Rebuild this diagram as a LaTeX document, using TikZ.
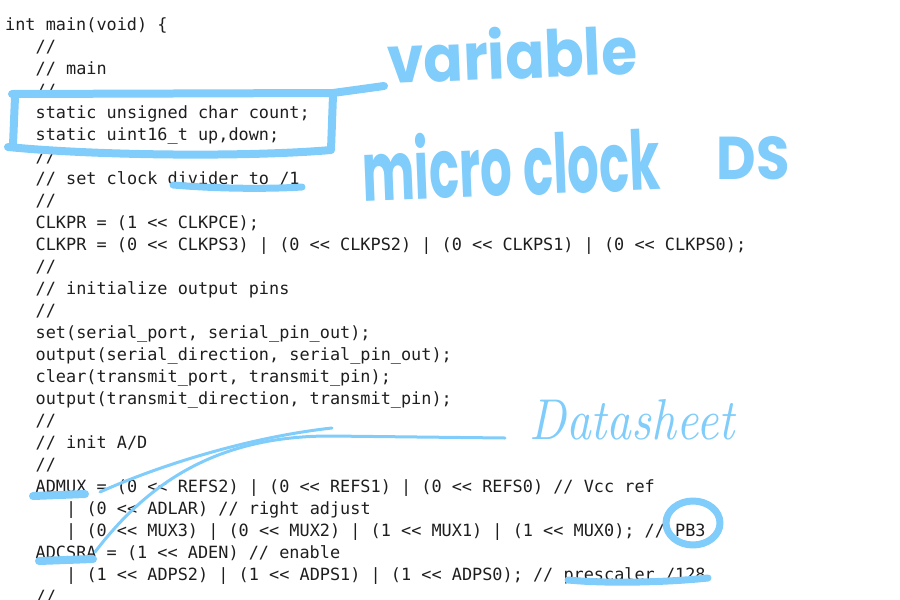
\documentclass[tikz,border=0pt]{standalone}
\usepackage{fontspec}
\usepackage{graphicx}
\setmonofont{DejaVu Sans Mono}
\newfontfamily\handfont{Poppins}
\definecolor{pen}{RGB}{128,204,250}
\definecolor{ink}{RGB}{30,30,30}
\frenchspacing

\begin{document}
\begin{tikzpicture}[x=1pt,y=-1pt,
  code/.style={anchor=base west,inner sep=0,text=ink,
    font=\ttfamily\fontsize{16.86}{22}\selectfont},
  marker/.style={draw=pen,line width=8pt,line cap=round,line join=round},
  stroke/.style={draw=pen,line width=3pt,line cap=round},
  scrawl/.style={inner sep=0,text=pen,font=\handfont\bfseries}]
  \useasboundingbox (0,0) rectangle (900,600);
  % the listing
  \node[code] (l0) at (5,30) {int main(void) \{};
  \node[code] (l1) at (35.5,52) {//};
  \node[code] (l2) at (35.5,74) {// main};
  \node[code] (l3) at (35.5,96) {//};
  \node[code] (l4) at (35.5,118) {static unsigned char count;};
  \node[code] (l5) at (35.5,140) {static uint16\_t up,down;};
  \node[code] (l6) at (35.5,162) {//};
  \node[code] (l7) at (35.5,184) {// set clock divider to /1};
  \node[code] (l8) at (35.5,206) {//};
  \node[code] (l9) at (35.5,228) {CLKPR = (1 << CLKPCE);};
  \node[code] (l10) at (35.5,250) {CLKPR = (0 << CLKPS3) | (0 << CLKPS2) | (0 << CLKPS1) | (0 << CLKPS0);};
  \node[code] (l11) at (35.5,272) {//};
  \node[code] (l12) at (35.5,294) {// initialize output pins};
  \node[code] (l13) at (35.5,316) {//};
  \node[code] (l14) at (35.5,338) {set(serial\_port, serial\_pin\_out);};
  \node[code] (l15) at (35.5,360) {output(serial\_direction, serial\_pin\_out);};
  \node[code] (l16) at (35.5,382) {clear(transmit\_port, transmit\_pin);};
  \node[code] (l17) at (35.5,404) {output(transmit\_direction, transmit\_pin);};
  \node[code] (l18) at (35.5,426) {//};
  \node[code] (l19) at (35.5,448) {// init A/D};
  \node[code] (l20) at (35.5,470) {//};
  \node[code] (l21) at (35.5,492) {ADMUX = (0 << REFS2) | (0 << REFS1) | (0 << REFS0) // Vcc ref};
  \node[code] (l22) at (66,514) {| (0 << ADLAR) // right adjust};
  \node[code] (l23) at (66,536) {| (0 << MUX3) | (0 << MUX2) | (1 << MUX1) | (1 << MUX0); // PB3};
  \node[code] (l24) at (35.5,558) {ADCSRA = (1 << ADEN) // enable};
  \node[code] (l25) at (66,580) {| (1 << ADPS2) | (1 << ADPS1) | (1 << ADPS0); // prescaler /128};
  \node[code] (l26) at (35.5,602) {//};
  % handwritten notes
  \node[scrawl,rotate=2.3] (variable) at (512,53) {\resizebox{250pt}{52pt}{variable}};
  \node[scrawl,rotate=2.3] (micro) at (511,163) {\resizebox{298pt}{66pt}{micro clock}};
  \node[scrawl] (ds) at (753,158) {\resizebox{73pt}{43pt}{DS}};
  \node[inner sep=0,text=pen,font=\itshape] (sheet) at (632,420) {\resizebox{205pt}{40pt}{Datasheet}};
  % box round the statics
  \draw[marker] (12,94) -- (333,93) -- (384,86);
  \draw[marker] (333,95) -- (331,150) .. controls (250,157) and (100,156) .. (8,147);
  \draw[marker] (15,97) -- (13,145);
  % underlines
  \draw[marker,line width=7pt] (173,185) .. controls (220,189) and (270,189) .. (302,187);
  \draw[marker] (33,496) -- (85,494);
  \draw[marker] (39,561) -- (93,559);
  \draw[marker,line width=7pt] (568,580) .. controls (610,584) and (670,582) .. (708,578);
  \draw[marker,line width=7pt] (693,523) ellipse [x radius=27,y radius=22];
  % leads to the datasheet
  \draw[stroke] (100,492) .. controls (160,465) and (250,437) .. (332,428);
  \draw[stroke] (95,552) .. controls (150,480) and (220,436) .. (330,436) -- (505,438);
\end{tikzpicture}
\end{document}
